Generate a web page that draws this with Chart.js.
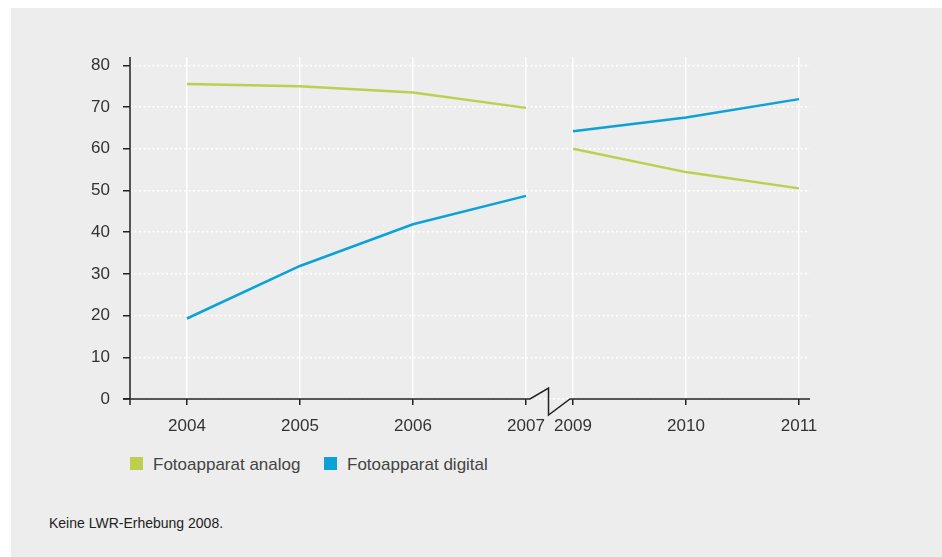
<!DOCTYPE html>
<html>
<head>
<meta charset="utf-8">
<script src="https://cdn.jsdelivr.net/npm/chart.js@4"></script>
<style>
  body { margin: 0; background: #fff; font-family: 'Liberation Sans', Arial, sans-serif; }
  #panel { position: absolute; left: 11px; top: 8px; width: 931px; height: 549px; background: #ecedec; }
  #wrap { position: absolute; left: 0; top: 0; width: 942px; height: 440px; }
  .leg { position: absolute; top: 455px; font-size: 17px; color: #444; line-height: 20px; }
  .leg span { position: absolute; left: 0; top: 2px; width: 13px; height: 13px; }
  .leg b { font-weight: normal; position: absolute; left: 23px; top: 0; white-space: nowrap; }
  #note { position: absolute; left: 49px; top: 515px; font-size: 14px; color: #222; }
</style>
</head>
<body>
<div id="panel"></div>
<div id="wrap"><canvas id="cam" width="942" height="440"></canvas></div>
<div class="leg" style="left:130px"><span style="background:#bccf4e"></span><b>Fotoapparat analog</b></div>
<div class="leg" style="left:324px"><span style="background:#0ca2d8"></span><b>Fotoapparat digital</b></div>
<div id="note">Keine LWR-Erhebung 2008.</div>
<script>
// years shown on the x axis, there is no survey for 2008
var years = ['2004', '2005', '2006', '2007', '2009', '2010', '2011'];
var analog = [75.5, 75, 73.5, 69.8, 60, 54.4, 50.5];
var digital = [19.3, 31.9, 41.9, 48.7, 64.2, 67.5, 71.9];
var yTicks = [0, 10, 20, 30, 40, 50, 60, 70, 80];

// axis break after 2007: the missing year takes less room
var breakAfter = 3;
var gapWidth = 0.416;
function pos(i) { return i <= breakAfter ? i : i - 1 + gapWidth; }

function series(values) {
  var out = [];
  values.forEach(function(v, i) {
    out.push({x: pos(i), y: v});
    if (i == breakAfter) out.push({x: pos(i) + gapWidth / 2, y: null});
  });
  return out;
}

var axisBreak = {
  id: 'axisBreak',
  afterDraw: function(chart) {
    var ctx = chart.ctx;
    var xs = chart.scales.x, ys = chart.scales.y;
    var y0 = ys.getPixelForValue(0);
    var top = chart.chartArea.top;
    var xa = xs.getPixelForValue(pos(breakAfter));
    var xb = xs.getPixelForValue(pos(breakAfter + 1));
    var mid = (xa + xb) / 2 - 1;
    ctx.save();
    ctx.strokeStyle = '#222';
    ctx.lineWidth = 1.5;
    ctx.beginPath();
    ctx.moveTo(chart.chartArea.left, top);
    ctx.lineTo(chart.chartArea.left, y0 + 6);
    ctx.moveTo(chart.chartArea.left - 7, y0);
    ctx.lineTo(xa + 4, y0);
    ctx.lineTo(mid, y0 - 11);
    ctx.lineTo(mid, y0 + 16);
    ctx.lineTo(xb - 3, y0);
    ctx.lineTo(chart.chartArea.right, y0);
    ctx.stroke();
    ctx.restore();
  }
};

var font = {family: "'Liberation Sans', Arial, sans-serif", size: 17};

new Chart('cam', {
  type: 'line',
  data: {
    datasets: [
      {label: 'Fotoapparat analog', data: series(analog), borderColor: '#bccf4e', borderWidth: 2.5, pointRadius: 0, spanGaps: false, tension: 0},
      {label: 'Fotoapparat digital', data: series(digital), borderColor: '#0ca2d8', borderWidth: 2.5, pointRadius: 0, spanGaps: false, tension: 0}
    ]
  },
  options: {
    responsive: false,
    animation: false,
    layout: {padding: {left: 0, right: 132, top: 57, bottom: 0}},
    plugins: {legend: {display: false}, tooltip: {enabled: false}},
    scales: {
      x: {
        type: 'linear',
        min: -0.504,
        max: 5.513,
        afterBuildTicks: function(s) { s.ticks = years.map(function(y, i) { return {value: pos(i)}; }); },
        afterFit: function(s) { s.height = 41; },
        grid: {color: '#ffffff', lineWidth: 1.5, tickColor: '#222', tickLength: 6, tickWidth: 1.5},
        border: {display: false},
        ticks: {color: '#333', font: font, padding: 11, maxRotation: 0, autoSkip: false,
          callback: function(v, i) { return years[i]; }}
      },
      y: {
        min: 0,
        max: 82,
        afterBuildTicks: function(s) { s.ticks = yTicks.map(function(v) { return {value: v}; }); },
        afterFit: function(s) { s.width = 130; },
        grid: {color: '#ffffff', lineWidth: 1.5, tickColor: '#222', tickLength: 7, tickWidth: 1.5},
        border: {display: false, dash: [2, 2.5]},
        ticks: {color: '#333', font: font, padding: 13}
      }
    }
  },
  plugins: [axisBreak]
});
</script>
</body>
</html>
